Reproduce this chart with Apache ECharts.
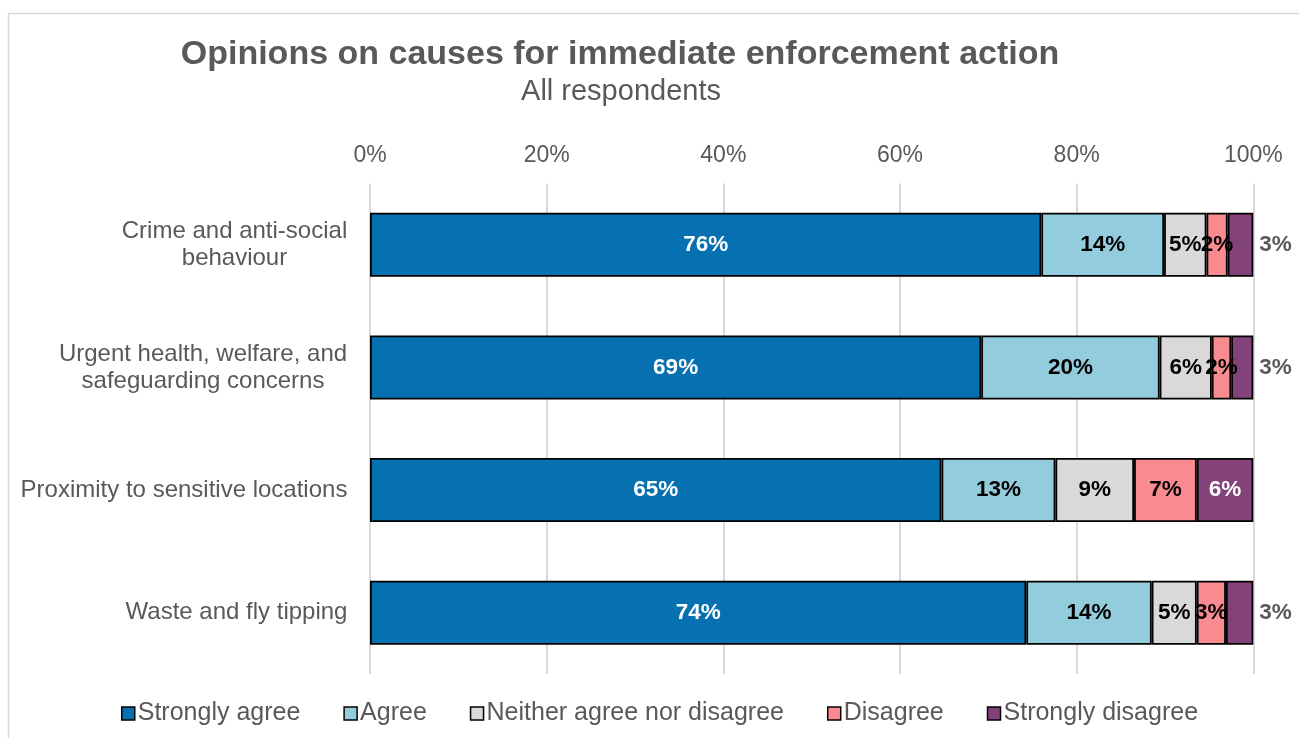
<!DOCTYPE html>
<html>
<head>
<meta charset="utf-8">
<script src="https://cdn.jsdelivr.net/npm/echarts@6/dist/echarts.min.js"></script>
<style>
  html, body { margin: 0; padding: 0; background: #ffffff; }
  #chart { width: 1299px; height: 738px; }
</style>
</head>
<body>
<div id="chart"></div>
<script>
// Survey categories (top to bottom)
const categories = [
  'Crime and anti-social\nbehaviour',
  'Urgent health, welfare, and\nsafeguarding concerns',
  'Proximity to sensitive locations',
  'Waste and fly tipping'
];

// Share of respondents per answer, in percent
const stronglyAgree    = [76.0, 69.2, 64.7, 74.3];
const agree            = [13.9, 20.2, 12.9, 14.2];
const neither          = [4.8, 5.9, 8.9, 5.1];
const disagree         = [2.4, 2.2, 7.1, 3.3];
const stronglyDisagree = [2.9, 2.5, 6.4, 3.1];

// Percentage axis ticks
const axisTicks = { min: 0, max: 100, interval: 20 };

const FONT = '"Liberation Sans", Arial, Helvetica, sans-serif';
const GREY = '#595959';

// Two-line category labels: lines centred on each other, block right-aligned
const measure = document.createElement('canvas').getContext('2d');
measure.font = '24px ' + FONT;
const catRich = {};
categories.forEach(function (c, i) {
  const w = Math.max.apply(null, c.split('\n').map(function (l) { return measure.measureText(l).width; }));
  catRich['c' + i] = {
    width: Math.ceil(w) + 1, align: 'center', fontSize: 24, lineHeight: 27,
    color: GREY, fontFamily: FONT
  };
});

const answers = [
  { name: 'Strongly agree',             data: stronglyAgree,    color: '#0670B0', text: '#ffffff' },
  { name: 'Agree',                      data: agree,            color: '#93CDDD', text: '#000000' },
  { name: 'Neither agree nor disagree', data: neither,          color: '#D9D9D9', text: '#000000' },
  { name: 'Disagree',                   data: disagree,         color: '#F98B90', text: '#000000' },
  { name: 'Strongly disagree',          data: stronglyDisagree, color: '#84427A', text: '#ffffff' }
];

const series = answers.map(function (a, si) {
  const last = si === answers.length - 1;
  return {
    name: a.name,
    type: 'bar',
    stack: 'total',
    barWidth: 64,
    itemStyle: { color: a.color, borderColor: '#000000', borderWidth: 1.8 },
    label: {
      show: true,
      position: 'inside',
      color: a.text,
      fontFamily: FONT,
      fontSize: 22.5,
      fontWeight: 'bold',
      formatter: function (p) { return Math.round(p.value) + '%'; }
    },
    emphasis: { disabled: true },
    data: a.data.map(function (v) {
      // small end segments carry their label just past the bar end
      if (last && v < 5) {
        return { value: v, label: { position: 'right', distance: 6, color: GREY } };
      }
      return v;
    })
  };
});

const chart = echarts.init(document.getElementById('chart'), null, { renderer: 'canvas' });
chart.setOption({
  backgroundColor: '#ffffff',
  animation: false,
  textStyle: { fontFamily: FONT },
  graphic: [{
    type: 'rect',
    shape: { x: 8.5, y: 13.5, width: 1400, height: 800 },
    style: { fill: 'none', stroke: '#D9D9D9', lineWidth: 1.5 },
    silent: true
  }],
  title: [
    {
      text: 'Opinions on causes for immediate enforcement action',
      left: 615, top: 33, textAlign: 'center',
      textStyle: { fontFamily: FONT, fontSize: 34, fontWeight: 'bold', color: GREY }
    },
    {
      text: 'All respondents',
      left: 616, top: 72, textAlign: 'center',
      textStyle: { fontFamily: FONT, fontSize: 29, fontWeight: 'normal', color: GREY }
    }
  ],
  legend: {
    left: 116,
    top: 696,
    itemGap: 43,
    itemWidth: 13,
    itemHeight: 13,
    icon: 'rect',
    itemStyle: { borderColor: '#000000', borderWidth: 1.5 },
    textStyle: { fontFamily: FONT, fontSize: 25, color: GREY, padding: [0, 0, 0, -2] },
    selectedMode: false,
    data: answers.map(function (a) { return a.name; })
  },
  grid: { left: 370, right: 45.7, top: 183.5, bottom: 64, containLabel: false },
  xAxis: {
    type: 'value',
    position: 'top',
    min: axisTicks.min,
    max: axisTicks.max,
    interval: axisTicks.interval,
    axisLine: { show: false },
    axisTick: { show: false },
    splitLine: { show: true, lineStyle: { color: '#D9D9D9', width: 2 } },
    axisLabel: {
      formatter: '{value}%', color: GREY, fontFamily: FONT, fontSize: 23, margin: 16
    }
  },
  yAxis: {
    type: 'category',
    inverse: true,
    data: categories,
    axisLine: { show: false },
    axisTick: { show: false },
    axisLabel: {
      margin: 22,
      formatter: function (value, index) {
        return value.split('\n').map(function (l) { return '{c' + index + '|' + l + '}'; }).join('\n');
      },
      rich: catRich
    }
  },
  series: series
});
</script>
</body>
</html>
